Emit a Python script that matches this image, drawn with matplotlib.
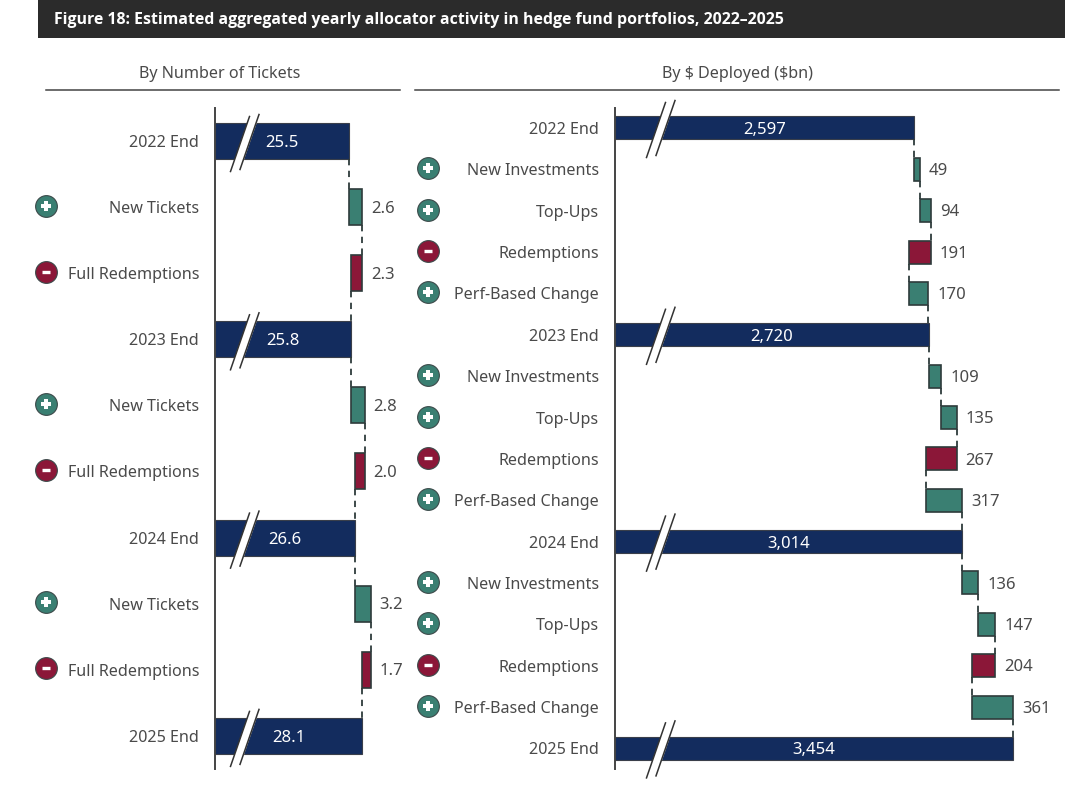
import matplotlib
matplotlib.use('Agg')
import matplotlib.pyplot as plt
from matplotlib.patches import Polygon, Rectangle

plt.rcParams['font.family'] = ['Noto Sans', 'DejaVu Sans']
plt.rcParams['text.parse_math'] = False

TITLE = "Figure 18: Estimated aggregated yearly allocator activity in hedge fund portfolios, 2022–2025"

tickets_labels = ["2022 End", "New Tickets", "Full Redemptions", "2023 End", "New Tickets",
                  "Full Redemptions", "2024 End", "New Tickets", "Full Redemptions", "2025 End"]
tickets_values = [25.5, 2.6, -2.3, 25.8, 2.8, -2.0, 26.6, 3.2, -1.7, 28.1]
tickets_is_total = [True, False, False, True, False, False, True, False, False, True]

dollars_labels = ["2022 End", "New Investments", "Top-Ups", "Redemptions", "Perf-Based Change",
                  "2023 End", "New Investments", "Top-Ups", "Redemptions", "Perf-Based Change",
                  "2024 End", "New Investments", "Top-Ups", "Redemptions", "Perf-Based Change",
                  "2025 End"]
dollars_values = [2597, 49, 94, -191, 170, 2720, 109, 135, -267, 317, 3014, 136, 147, -204, 361, 3454]
dollars_is_total = [True, False, False, False, False] * 3 + [True]

NAVY = "#132c5e"
TEAL = "#3a7f72"
RED = "#8b1738"
EDGE = "#2e3b3b"
TEXT = "#4a4a4a"
W, H = 1080, 786


def panel(rect, labels, values, totals, xlim, first_y, step, fmt):
    """Broken-axis waterfall; rect is (left, top, right, bottom) in pixels."""
    l, t, r, b = rect
    ax = fig.add_axes([l / W, 1 - b / H, (r - l) / W, (b - t) / H])
    ax.patch.set_alpha(0)
    ax.set_xlim(*xlim)
    ax.set_ylim((b - first_y) / step, (t - first_y) / step)
    h_px = 36 if step > 50 else 23
    h = h_px / step
    level = 0
    for i, v in enumerate(values):
        if totals[i]:
            ax.barh(i, v - xlim[0], left=xlim[0], height=h, color=NAVY, edgecolor="#3a3f4a", linewidth=0.8)
            ax.annotate(fmt(v), xy=(xlim[0] + (v - xlim[0]) / 2, i), xytext=(0, -1.4),
                        textcoords="offset points", color="white", fontsize=12,
                        ha="center", va="center", zorder=6)
            new_level = v
        else:
            new_level = level + v
            ax.barh(i, abs(v), left=min(level, new_level), height=h, color=TEAL if v > 0 else RED,
                    edgecolor=EDGE, linewidth=1.2)
            ax.annotate(fmt(abs(v)), xy=(max(level, new_level), i), xytext=(6.5, -1.2),
                        textcoords="offset points", color=TEXT, fontsize=12, ha="left", va="center")
        if i < len(values) - 1:
            ax.plot([new_level, new_level], [i + h / 2, i + 1 - h / 2], color=EDGE, lw=1.3,
                    linestyle=(0, (3.5, 3)), zorder=1)
        level = new_level
    ax.set_yticks(range(len(labels)), labels)
    ax.tick_params(axis="y", length=0, pad=11.5, labelsize=11.6, labelcolor=TEXT)
    ax.set_xticks([])
    for s in ["top", "right", "bottom"]:
        ax.spines[s].set_visible(False)
    ax.spines["left"].set_color("#444444")
    ax.spines["left"].set_linewidth(1.4)
    return ax


def add_break(ov, x, y):
    # white gap between two slanted strokes, centred on the bar
    dx, dy = 9.5, 27.5
    gap = 9.5
    ov.add_patch(Polygon([(x - dx, y + dy), (x + dx, y - dy), (x + dx + gap, y - dy), (x - dx + gap, y + dy)],
                         closed=True, facecolor="white", edgecolor="none", zorder=3))
    ov.plot([x - dx, x + dx], [y + dy, y - dy], color="#333333", lw=1.1, zorder=4)
    ov.plot([x - dx + gap, x + dx + gap], [y + dy - 2, y - dy - 2], color="#333333", lw=1.1, zorder=4)


def add_icon(ov, x, y, positive):
    ov.scatter([x], [y], s=245, color=TEAL if positive else RED, edgecolor="#3c4a4a", linewidth=0.8, zorder=3)
    if positive:
        ov.scatter([x], [y], s=62, marker="P", color="white", linewidth=0, zorder=4)
    else:
        ov.scatter([x], [y], s=26, marker="_", color="white", linewidth=2.4, zorder=4)


fig = plt.figure(figsize=(W / 100, H / 100), dpi=100, facecolor="white")

left_first, left_step = 141, 66.1
right_first, right_step = 128, 41.36

panel((215, 108, 400, 769), tickets_labels, tickets_values, tickets_is_total,
      (-1.3, 35.7), left_first, left_step, lambda v: f"{v:.1f}")
panel((615, 108, 1059, 769), dollars_labels, dollars_values, dollars_is_total,
      (0, 3852), right_first, right_step, lambda v: f"{v:,.0f}")

# overlay in pixel coordinates for the header, rules, icons and axis breaks
ov = fig.add_axes([0, 0, 1, 1], zorder=5)
ov.set_xlim(0, W)
ov.set_ylim(H, 0)
ov.axis("off")
ov.patch.set_alpha(0)

ov.add_patch(Rectangle((38, 0), 1027, 38, facecolor="#2b2b2b", edgecolor="none"))
ov.text(54, 19.5, TITLE, color="white", fontsize=11.43, fontweight="bold", family="Open Sans",
        va="center", ha="left")

ov.text(219.5, 74, "By Number of Tickets", color=TEXT, fontsize=11.6, ha="center", va="center")
ov.text(738, 74, "By $ Deployed ($bn)", color=TEXT, fontsize=11.6, ha="center", va="center")
ov.plot([46, 400], [89.5, 89.5], color="#444444", lw=1.1)
ov.plot([415, 1059], [89.5, 89.5], color="#444444", lw=1.1)

for i, v in enumerate(tickets_values):
    y = left_first + i * left_step
    if tickets_is_total[i]:
        add_break(ov, 240, y + 3)
    else:
        add_icon(ov, 46, y - 1.5, v > 0)

for i, v in enumerate(dollars_values):
    y = right_first + i * right_step
    if dollars_is_total[i]:
        add_break(ov, 656, y + 2)
    else:
        add_icon(ov, 428, y - 1, v > 0)

fig.savefig("out.png", dpi=100)
